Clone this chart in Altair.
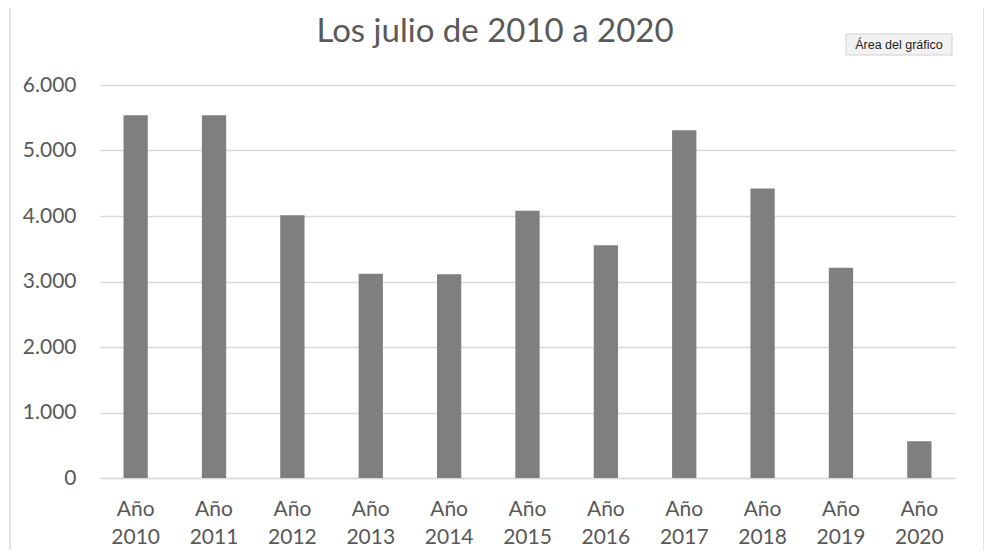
import altair as alt
import pandas as pd

# Datos (julio de cada año)
anios = ["Año 2010", "Año 2011", "Año 2012", "Año 2013", "Año 2014", "Año 2015",
         "Año 2016", "Año 2017", "Año 2018", "Año 2019", "Año 2020"]
valores = [5540, 5540, 4010, 3120, 3110, 4080, 3555, 5310, 4420, 3210, 560]
titulo = "Los julio de 2010 a 2020"

df = pd.DataFrame({"anio": anios, "valor": valores})

FONT = "Lato"
GRIS_TEXTO = "#595959"

barras = alt.Chart(df).mark_bar(color="#7f7f7f").encode(
    x=alt.X("anio:N", sort=None, title=None,
            scale=alt.Scale(paddingInner=0.69, paddingOuter=0.3),
            axis=alt.Axis(labelExpr="split(datum.label, ' ')", labelAngle=0,
                          labelFontSize=21, labelColor=GRIS_TEXTO, labelFont=FONT,
                          labelLineHeight=28, labelPadding=20, ticks=False,
                          domainColor="#d9d9d9", domainWidth=1.5)),
    y=alt.Y("valor:Q", title=None,
            scale=alt.Scale(domain=[0, 6000]),
            axis=alt.Axis(values=[0, 1000, 2000, 3000, 4000, 5000, 6000],
                          labelExpr="replace(format(datum.value, ','), ',', '.')",
                          labelFontSize=21, labelColor=GRIS_TEXTO, labelFont=FONT,
                          labelPadding=24, ticks=False, domain=False,
                          gridColor="#d9d9d9", gridWidth=1.5)),
)

# Título como texto (así no lo desplazan las anotaciones)
tit = alt.Chart(pd.DataFrame({"t": [titulo]})).mark_text(
    font=FONT, fontSize=33, color=GRIS_TEXTO, align="center", baseline="alphabetic"
).encode(x=alt.value(395), y=alt.value(-43), text="t:N")

# Recuadro "Área del gráfico" (etiqueta emergente de Excel)
etiqueta = pd.DataFrame({"t": ["Área del gráfico"]})
caja = alt.Chart(etiqueta).mark_rect(color="#f2f2f2", stroke="#d0d0d0", strokeWidth=1).encode(
    x=alt.value(746), x2=alt.value(852), y=alt.value(-51), y2=alt.value(-30)
)
texto = alt.Chart(etiqueta).mark_text(font="Liberation Sans", fontSize=12.5, color="#222222",
                                       align="center", baseline="middle").encode(
    x=alt.value(799), y=alt.value(-40), text="t:N"
)

# Bordes del área del gráfico
bordes = pd.DataFrame({"b": ["izq", "der"]})
borde_izq = alt.Chart(bordes.head(1)).mark_rule(color="#e3e3e3", strokeWidth=2).encode(
    x=alt.value(-90), y=alt.value(-77), y2=alt.value(473)
)
borde_der = alt.Chart(bordes.tail(1)).mark_rule(color="#e3e3e3", strokeWidth=2).encode(
    x=alt.value(884), y=alt.value(-77), y2=alt.value(473)
)

chart = alt.layer(barras, tit, caja, texto, borde_izq, borde_der).properties(
    width=855,
    height=393,
    autosize=alt.AutoSizeParams(type="none"),
    padding={"left": 92, "top": 77, "right": 29, "bottom": 72},
).configure(
    background="white"
).configure_view(
    strokeWidth=0
)

chart.save("out.html", embed_options={"renderer": "svg", "actions": False})
